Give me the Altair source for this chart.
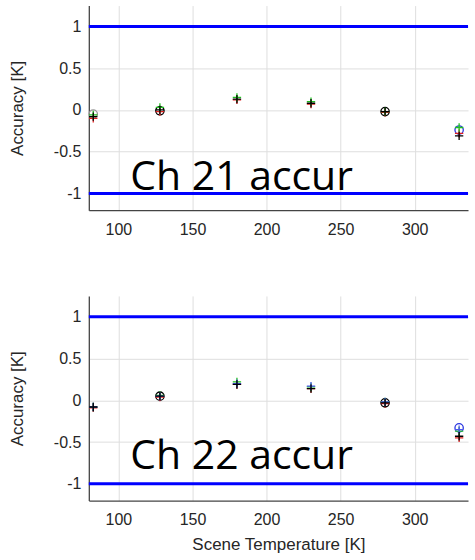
import altair as alt
import pandas as pd

temps = [83, 128, 180, 230, 280, 330]

# Ch 21 accuracy [K] per marker series
ch21_red = [-0.10, -0.02, 0.12, 0.07, -0.03, -0.28]
ch21_green = [-0.06, 0.03, 0.15, 0.10, -0.02, -0.21]
ch21_black = [-0.08, 0.00, 0.13, 0.08, -0.02, -0.31]
ch21_circ_t = [83, 128, 280, 330]
ch21_circ_v = [-0.05, -0.01, -0.02, -0.24]
ch21_circ_c = ["#999999", "black", "black", "#2a36e0"]

# Ch 22 accuracy [K]
ch22_red = [-0.09, 0.04, 0.19, 0.14, -0.04, -0.45]
ch22_green = [-0.08, 0.06, 0.22, 0.16, -0.02, -0.37]
ch22_black = [-0.08, 0.05, 0.19, 0.14, -0.03, -0.43]
ch22_blue = [-0.08, 0.05, 0.20, 0.17, -0.02, -0.35]
ch22_circ_t = [128, 280, 330]
ch22_circ_v = [0.05, -0.03, -0.33]
ch22_circ_c = ["black", "black", "#2a36e0"]

limits = [1, -1]
y_ticks = [-1, -0.5, 0, 0.5, 1]
x_ticks = [100, 150, 200, 250, 300]
labels = ["Ch 21 accur", "Ch 22 accur"]
label_y = [-0.82, -0.68]

PLUS = "M-1,0L1,0M0,-1L0,1"
W, H = 380, 205
XD = [80, 336]
YD = [-1.2, 1.25]


def panel(series, circ_t, circ_v, circ_c, label, ly, show_title):
    rows = []
    for color, vals in series:
        for t, v in zip(temps, vals):
            rows.append({"T": t, "v": v, "c": color})
    cross_df = pd.DataFrame(rows)
    circ_df = pd.DataFrame({"T": circ_t, "v": circ_v, "c": circ_c})
    lim_df = pd.DataFrame({"y": limits})
    txt_df = pd.DataFrame({"T": [108], "v": [ly], "t": [label]})

    xax = alt.Axis(values=x_ticks, title="Scene Temperature [K]" if show_title else None,
                   grid=True, titlePadding=9, labelPadding=11)
    yax = alt.Axis(values=y_ticks, title="Accuracy [K]", titlePadding=27, labelPadding=8,
                   labelExpr="datum.value < 0 ? '-' + format(-datum.value, '') : format(datum.value, '')")
    xs = alt.Scale(domain=XD, nice=False, zero=False)
    ys = alt.Scale(domain=YD, nice=False, zero=False)

    base_rule = alt.Chart(lim_df).mark_rule(color="#0000ff", strokeWidth=3).encode(
        y=alt.Y("y:Q", scale=ys, axis=yax)
    )
    crosses = alt.Chart(cross_df).mark_point(shape=PLUS, size=70, filled=False, strokeWidth=1.3, opacity=1).encode(
        x=alt.X("T:Q", scale=xs, axis=xax),
        y=alt.Y("v:Q", scale=ys, axis=yax),
        color=alt.Color("c:N", scale=None),
    )
    circles = alt.Chart(circ_df).mark_point(shape="circle", size=70, filled=False, strokeWidth=1.3, opacity=1).encode(
        x=alt.X("T:Q", scale=xs, axis=xax),
        y=alt.Y("v:Q", scale=ys, axis=yax),
        color=alt.Color("c:N", scale=None),
    )
    text = alt.Chart(txt_df).mark_text(align="left", baseline="middle", font="Open Sans",
                                       fontSize=41, color="black").encode(
        x=alt.X("T:Q", scale=xs, axis=xax),
        y=alt.Y("v:Q", scale=ys, axis=yax),
        text="t:N",
    )
    return alt.layer(base_rule, circles, crosses, text).properties(width=W, height=H)


top = panel([("#e02020", ch21_red), ("#20c020", ch21_green), ("black", ch21_black)],
            ch21_circ_t, ch21_circ_v, ch21_circ_c, labels[0], label_y[0], False)
bot = panel([("#e02020", ch22_red), ("#20c020", ch22_green), ("#4a56f0", ch22_blue), ("black", ch22_black)],
            ch22_circ_t, ch22_circ_v, ch22_circ_c, labels[1], label_y[1], True)

chart = alt.vconcat(top, bot, spacing=59).properties(
    padding={"left": 8, "top": 5, "right": 5, "bottom": 0}
).configure_view(stroke=None).configure_axis(
    labelFont="Liberation Sans", titleFont="Liberation Sans",
    labelFontSize=16, titleFontSize=17, titleFontWeight="normal",
    labelColor="#262626", titleColor="#262626",
    domainColor="#444444", domainWidth=1.3, tickColor="#555555", gridColor="#dedede",
    ticks=False,
)

chart.save("out.html", embed_options={"renderer": "svg", "actions": False})
